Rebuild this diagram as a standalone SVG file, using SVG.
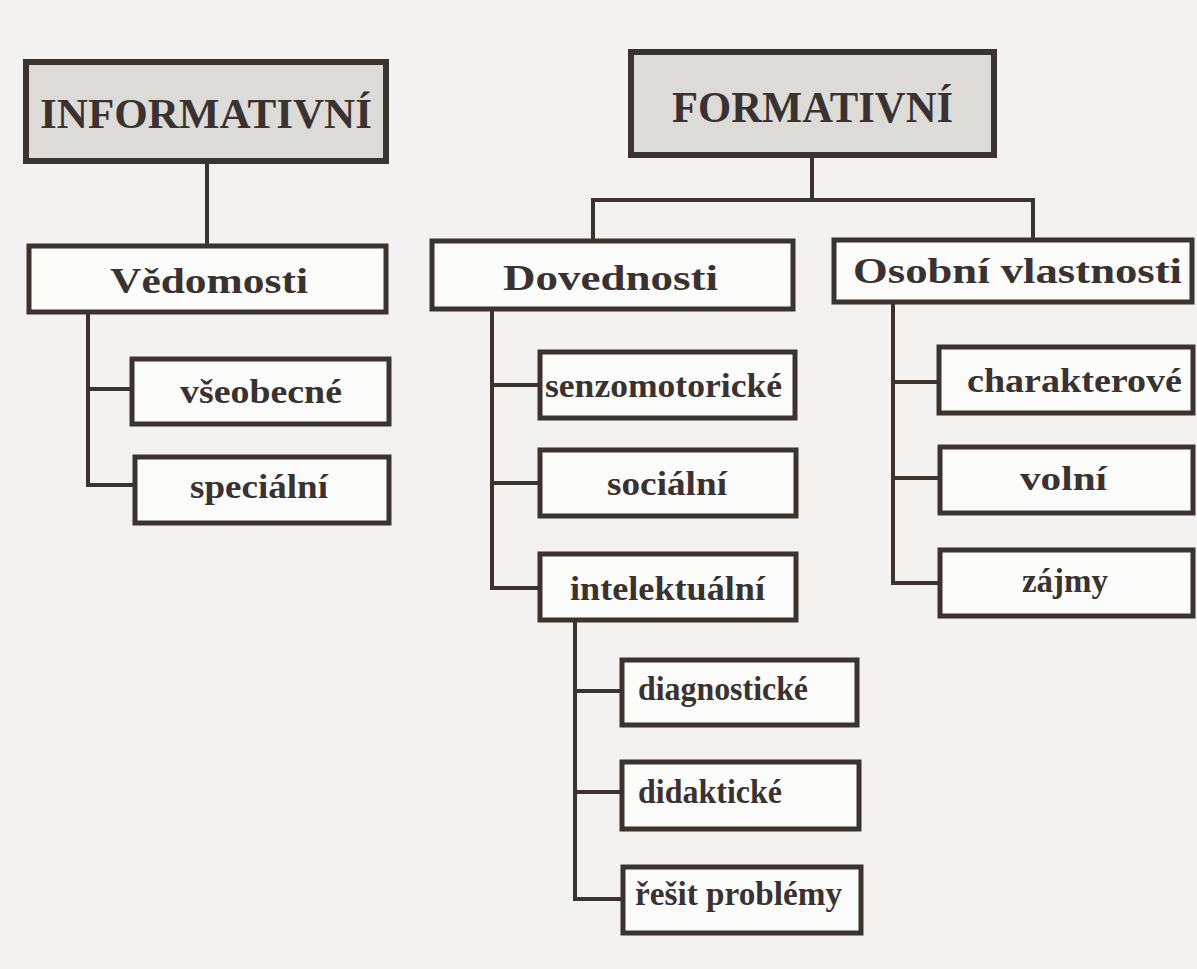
<svg xmlns="http://www.w3.org/2000/svg" width="1197" height="969" viewBox="0 0 1197 969">
<style>
.bg{fill:#f3f2f0}
.title{fill:#dddbd8;stroke:#3b3330;stroke-width:6}
.box{fill:#fbfbfa;stroke:#3b3330;stroke-width:5}
.t{font-family:"Liberation Serif",serif;font-weight:bold;fill:#3a3230}
.c{fill:none;stroke:#3b3330;stroke-width:4}
</style>
<rect class="bg" x="0" y="0" width="1197" height="969"/>
<g id="connectors">
<path class="c" d="M207 163V246"/>
<path class="c" d="M88 312V487M86 389H132M86 485H135"/>
<path class="c" d="M812 157V200M591 200H1035M593 198V241M1033 198V240"/>
<path class="c" d="M492 309V590M490 385H540M490 483H540M490 588H540"/>
<path class="c" d="M575 620V901M573 691H622M573 792H622M573 899H623"/>
<path class="c" d="M893 302V585M891 382H939M891 478H940M891 583H940"/>
</g>
<g id="informativni">
<rect class="title" x="26" y="62" width="360" height="99"/>
<text class="t" x="40" y="128" font-size="42" textLength="332" lengthAdjust="spacingAndGlyphs">INFORMATIVNÍ</text>
</g>
<g id="formativni">
<rect class="title" x="631" y="52" width="363" height="103"/>
<text class="t" x="672" y="122" font-size="44" textLength="281" lengthAdjust="spacingAndGlyphs">FORMATIVNÍ</text>
</g>
<g id="vedomosti">
<rect class="box" x="29" y="246" width="357" height="66"/>
<text class="t" x="110" y="293" font-size="36" textLength="198" lengthAdjust="spacingAndGlyphs">Vědomosti</text>
</g>
<g id="vseobecne">
<rect class="box" x="132" y="359" width="257" height="65"/>
<text class="t" x="180" y="403" font-size="34" textLength="162" lengthAdjust="spacingAndGlyphs">všeobecné</text>
</g>
<g id="specialni">
<rect class="box" x="135" y="457" width="254" height="66"/>
<text class="t" x="190" y="498" font-size="34" textLength="138" lengthAdjust="spacingAndGlyphs">speciální</text>
</g>
<g id="dovednosti">
<rect class="box" x="432" y="241" width="361" height="68"/>
<text class="t" x="503" y="290" font-size="36" textLength="215" lengthAdjust="spacingAndGlyphs">Dovednosti</text>
</g>
<g id="senzomotoricke">
<rect class="box" x="540" y="352" width="255" height="66"/>
<text class="t" x="545" y="397" font-size="34" textLength="237" lengthAdjust="spacingAndGlyphs">senzomotorické</text>
</g>
<g id="socialni">
<rect class="box" x="540" y="450" width="256" height="66"/>
<text class="t" x="607" y="495" font-size="34" textLength="120" lengthAdjust="spacingAndGlyphs">sociální</text>
</g>
<g id="intelektualni">
<rect class="box" x="540" y="554" width="256" height="66"/>
<text class="t" x="570" y="600" font-size="34" textLength="195" lengthAdjust="spacingAndGlyphs">intelektuální</text>
</g>
<g id="diagnosticke">
<rect class="box" x="622" y="660" width="235" height="65"/>
<text class="t" x="638" y="700" font-size="34" textLength="170" lengthAdjust="spacingAndGlyphs">diagnostické</text>
</g>
<g id="didakticke">
<rect class="box" x="622" y="762" width="237" height="67"/>
<text class="t" x="638" y="803" font-size="34" textLength="144" lengthAdjust="spacingAndGlyphs">didaktické</text>
</g>
<g id="resit-problemy">
<rect class="box" x="623" y="867" width="238" height="66"/>
<text class="t" x="635" y="905" font-size="34" textLength="207" lengthAdjust="spacingAndGlyphs">řešit problémy</text>
</g>
<g id="osobni-vlastnosti">
<rect class="box" x="834" y="240" width="358" height="62"/>
<text class="t" x="853" y="283" font-size="36" textLength="329" lengthAdjust="spacingAndGlyphs">Osobní vlastnosti</text>
</g>
<g id="charakterove">
<rect class="box" x="939" y="347" width="254" height="66"/>
<text class="t" x="967" y="392" font-size="34" textLength="215" lengthAdjust="spacingAndGlyphs">charakterové</text>
</g>
<g id="volni">
<rect class="box" x="940" y="447" width="253" height="66"/>
<text class="t" x="1020" y="490" font-size="34" textLength="87" lengthAdjust="spacingAndGlyphs">volní</text>
</g>
<g id="zajmy">
<rect class="box" x="940" y="550" width="253" height="66"/>
<text class="t" x="1022" y="592" font-size="34" textLength="86" lengthAdjust="spacingAndGlyphs">zájmy</text>
</g>
</svg>
